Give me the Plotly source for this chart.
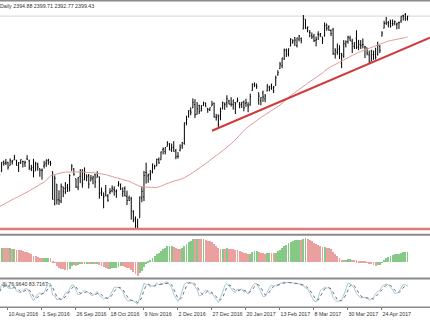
import plotly.graph_objects as go
import pandas as pd
import numpy as np

# ---------------- data ----------------
holidays = ["2016-09-05", "2016-11-24", "2016-12-26", "2017-01-02",
            "2017-01-16", "2017-02-20", "2017-04-14"]
dates = [d for d in pd.bdate_range("2016-08-04", "2017-05-10")
         if d.strftime("%Y-%m-%d") not in holidays]

open_ = [
    2163.5, 2168.8, 2183.8, 2182.2, 2182.8, 2177.9, 2183.7, 2186.1, 2186.2, 2177.8, 2181.9, 2184.2, 2181.6, 2187.8, 2185.1, 2173.3, 2175.1, 2170.2, 2179.5, 2173.6,
    2171.3, 2177.5, 2181.6, 2185.2, 2182.8, 2169.1, 2120.9, 2150.5, 2127.9, 2125.4, 2146.5, 2143.9, 2145.9, 2144.6, 2170.9, 2173.3, 2158.5, 2146.0, 2161.9, 2168.9, 2156.5,
    2164.3, 2163.4, 2155.2, 2158.2, 2164.2, 2160.4, 2161.4, 2137.7, 2130.3, 2139.7, 2132.9, 2138.3, 2140.8, 2142.5, 2139.4, 2148.5, 2149.7, 2136.9, 2144.1, 2132.2, 2129.8,
    2128.7, 2109.4, 2098.8, 2083.8, 2100.6, 2129.9, 2131.6, 2167.5, 2162.7, 2165.6, 2168.3, 2177.5, 2178.6, 2186.8, 2186.4, 2201.6, 2198.6, 2206.3, 2210.2, 2200.8, 2205.0,
    2200.2, 2191.1, 2200.7, 2207.3, 2210.7, 2241.1, 2249.7, 2258.8, 2263.3, 2268.4, 2253.8, 2266.8, 2259.2, 2266.5, 2270.5, 2262.9, 2260.3, 2266.2, 2270.2, 2249.5, 2251.6,
    2251.6, 2261.6, 2268.2, 2271.1, 2273.6, 2269.0, 2268.6, 2271.1, 2272.7, 2269.1, 2269.1, 2271.9, 2270.0, 2267.8, 2267.9, 2288.9, 2298.6, 2299.0, 2286.0, 2274.0,
    2285.6, 2276.7, 2288.5, 2294.3, 2295.9, 2289.6, 2296.7, 2312.3, 2321.7, 2326.1, 2335.6, 2349.6, 2343.0, 2354.9, 2361.1, 2367.5, 2355.7, 2365.2, 2366.1,
    2380.1, 2394.8, 2380.9, 2375.2, 2370.7, 2369.8, 2363.5, 2372.5, 2371.6, 2368.6, 2370.3, 2387.7, 2383.7, 2378.2, 2379.3, 2343.0, 2346.0, 2350.4, 2329.1, 2339.8, 2356.5, 2361.3, 2366.6,
    2362.3, 2354.8, 2366.6, 2353.8, 2356.6, 2357.2, 2353.9, 2352.2, 2342.0, 2332.6, 2342.5, 2346.8, 2342.7, 2354.7, 2370.3, 2381.5, 2389.0, 2389.7, 2393.7,
    2388.5, 2391.1, 2386.5, 2389.8, 2392.4, 2399.9, 2401.6, 2394.88]
high = [
    2168.2, 2182.9, 2185.4, 2187.7, 2183.4, 2188.5, 2186.3, 2193.8, 2186.2, 2183.1, 2187.0, 2185.0, 2185.2, 2193.4, 2186.7, 2179.0, 2187.9, 2183.5, 2182.3, 2173.6,
    2173.6, 2184.9, 2186.6, 2187.9, 2184.9, 2169.1, 2163.3, 2150.5, 2141.3, 2151.3, 2146.5, 2153.6, 2150.8, 2165.1, 2179.9, 2173.8, 2158.5, 2161.1, 2172.4, 2172.7, 2175.3,
    2164.4, 2165.5, 2163.9, 2162.9, 2165.9, 2169.6, 2161.6, 2145.4, 2138.2, 2149.2, 2135.6, 2144.4, 2148.4, 2147.2, 2142.6, 2154.8, 2151.4, 2145.7, 2147.1, 2140.7, 2133.3,
    2131.5, 2111.8, 2102.6, 2099.1, 2132.0, 2146.9, 2170.1, 2182.3, 2165.9, 2171.4, 2180.8, 2179.2, 2188.1, 2189.9, 2198.7, 2204.8, 2204.7, 2213.4, 2211.1, 2210.5, 2214.1,
    2202.6, 2197.9, 2209.4, 2212.8, 2241.6, 2251.7, 2259.8, 2264.0, 2277.5, 2276.2, 2272.1, 2268.1, 2267.5, 2272.6, 2271.2, 2263.2, 2263.8, 2273.8, 2271.3, 2254.5, 2253.6,
    2263.9, 2272.8, 2271.5, 2282.1, 2275.5, 2279.3, 2275.3, 2271.8, 2278.7, 2272.1, 2272.0, 2274.3, 2277.0, 2271.8, 2284.6, 2299.6, 2301.0, 2299.0, 2286.0, 2279.1,
    2289.1, 2284.0, 2298.3, 2296.2, 2299.4, 2295.9, 2311.1, 2319.2, 2331.6, 2337.6, 2351.3, 2351.3, 2351.2, 2366.7, 2365.1, 2368.3, 2367.3, 2371.5, 2367.8,
    2401.0, 2394.8, 2383.9, 2378.8, 2375.1, 2373.1, 2369.1, 2376.9, 2374.4, 2368.6, 2390.0, 2388.1, 2385.7, 2379.6, 2381.9, 2351.8, 2358.9, 2356.2, 2344.9, 2363.8, 2363.4, 2370.4, 2370.4,
    2365.9, 2360.5, 2378.4, 2364.2, 2363.8, 2366.4, 2355.2, 2352.7, 2348.3, 2349.1, 2348.4, 2352.6, 2361.4, 2356.2, 2377.0, 2392.5, 2398.2, 2392.1, 2393.7,
    2394.5, 2392.9, 2389.8, 2391.4, 2399.3, 2401.4, 2403.9, 2399.71]
low = [
    2159.1, 2168.8, 2177.9, 2178.6, 2172.0, 2177.9, 2179.4, 2186.1, 2178.1, 2168.5, 2180.5, 2175.1, 2175.9, 2186.8, 2171.3, 2169.7, 2160.4, 2170.2, 2170.4, 2161.4,
    2157.1, 2173.6, 2176.1, 2179.1, 2177.5, 2127.8, 2119.1, 2120.3, 2119.6, 2122.4, 2131.2, 2135.9, 2139.2, 2139.6, 2170.9, 2163.0, 2145.0, 2141.6, 2151.8, 2145.2, 2156.5,
    2154.8, 2144.0, 2155.2, 2150.3, 2144.9, 2160.4, 2128.8, 2132.8, 2114.7, 2132.7, 2124.4, 2135.5, 2138.2, 2133.4, 2130.1, 2146.9, 2141.9, 2131.6, 2132.5, 2119.4, 2125.5,
    2097.9, 2094.0, 2085.2, 2083.8, 2100.6, 2123.6, 2125.4, 2151.2, 2152.5, 2156.1, 2166.4, 2172.2, 2176.7, 2180.4, 2186.4, 2194.5, 2194.5, 2206.3, 2200.4, 2198.2, 2198.8,
    2187.4, 2188.4, 2199.0, 2202.7, 2208.9, 2237.6, 2249.2, 2252.4, 2263.3, 2248.4, 2253.8, 2254.2, 2258.2, 2266.5, 2265.2, 2256.1, 2258.8, 2266.2, 2249.1, 2244.6, 2233.6,
    2245.1, 2261.6, 2260.5, 2264.1, 2268.8, 2265.3, 2260.8, 2254.3, 2271.5, 2262.8, 2263.4, 2258.4, 2265.0, 2257.0, 2266.7, 2288.9, 2294.1, 2291.6, 2268.0, 2267.2,
    2272.4, 2271.7, 2287.9, 2288.0, 2290.2, 2285.4, 2296.6, 2311.1, 2321.4, 2322.2, 2334.8, 2338.9, 2339.6, 2354.9, 2358.3, 2355.1, 2352.9, 2361.9, 2359.0,
    2380.1, 2380.2, 2375.4, 2368.0, 2365.5, 2361.0, 2354.5, 2364.0, 2368.5, 2358.2, 2368.9, 2377.8, 2377.6, 2369.7, 2341.9, 2336.5, 2342.1, 2335.7, 2322.3, 2337.6, 2352.9, 2358.6, 2362.6,
    2344.7, 2350.7, 2350.5, 2348.9, 2350.7, 2351.5, 2337.3, 2341.2, 2329.0, 2332.5, 2334.5, 2335.1, 2340.9, 2344.5, 2369.2, 2381.2, 2386.8, 2382.7, 2382.4,
    2384.8, 2385.8, 2379.8, 2380.4, 2389.4, 2393.0, 2392.4, 2392.77]
close = [
    2164.3, 2182.9, 2180.9, 2181.7, 2175.5, 2185.8, 2184.1, 2190.2, 2178.2, 2182.2, 2187.0, 2183.9, 2182.6, 2186.9, 2175.4, 2172.5, 2169.0, 2180.4, 2176.1, 2171.0,
    2170.9, 2180.0, 2186.5, 2186.2, 2181.3, 2127.8, 2159.0, 2127.0, 2125.8, 2147.3, 2139.2, 2139.1, 2139.8, 2163.1, 2177.2, 2164.7, 2146.1, 2159.9, 2171.4, 2151.1, 2168.3,
    2161.2, 2150.5, 2159.7, 2160.8, 2153.7, 2163.7, 2136.7, 2139.2, 2132.6, 2133.0, 2126.5, 2139.6, 2144.3, 2141.3, 2141.2, 2151.3, 2143.2, 2139.4, 2133.0, 2126.4, 2126.2,
    2111.7, 2097.9, 2088.7, 2085.2, 2131.5, 2139.6, 2163.3, 2167.5, 2164.5, 2164.2, 2180.4, 2176.9, 2187.1, 2181.9, 2198.2, 2202.9, 2204.7, 2213.4, 2201.7, 2204.7, 2198.8,
    2191.1, 2192.0, 2204.7, 2212.2, 2241.4, 2246.2, 2259.5, 2257.0, 2271.7, 2253.3, 2262.0, 2258.1, 2262.5, 2270.8, 2265.2, 2261.0, 2263.8, 2268.9, 2249.9, 2249.3, 2238.8,
    2257.8, 2270.8, 2269.0, 2277.0, 2268.9, 2268.9, 2275.3, 2270.4, 2274.6, 2267.9, 2271.9, 2263.7, 2271.3, 2265.2, 2280.1, 2298.4, 2296.7, 2294.7, 2280.9, 2278.9,
    2279.6, 2280.9, 2297.4, 2292.6, 2293.1, 2294.7, 2307.9, 2316.1, 2328.3, 2337.6, 2349.3, 2347.2, 2351.2, 2365.4, 2362.8, 2363.8, 2367.3, 2369.8, 2363.6,
    2396.0, 2381.9, 2383.1, 2375.3, 2368.4, 2363.0, 2364.9, 2372.6, 2373.5, 2365.5, 2385.3, 2381.4, 2378.3, 2373.5, 2344.0, 2348.5, 2346.0, 2344.0, 2341.6, 2358.6, 2361.1, 2368.1, 2362.7,
    2358.8, 2360.2, 2353.0, 2357.5, 2355.5, 2357.2, 2353.8, 2344.9, 2329.0, 2349.0, 2342.2, 2338.2, 2355.8, 2348.7, 2374.2, 2388.6, 2387.5, 2388.8, 2384.2,
    2388.3, 2391.2, 2388.1, 2389.5, 2399.3, 2399.4, 2396.9, 2399.43]

# closes before the first visible bar (May 2 - Aug 3 2016), used only for indicator warm-up
pre_close = [
    2081.43, 2063.37, 2051.12, 2050.63, 2057.14, 2058.69, 2084.39, 2064.46, 2064.11, 2046.61, 2066.66,
    2047.21, 2047.63, 2040.04, 2052.32, 2048.04, 2076.06, 2090.54, 2090.10, 2099.06, 2096.95,
    2099.33, 2105.26, 2099.13, 2109.41, 2112.13, 2119.12, 2115.48, 2096.07, 2079.06, 2075.32, 2071.50,
    2077.99, 2071.22, 2083.25, 2088.90, 2085.45, 2113.32, 2037.41, 2000.54, 2036.09, 2070.77, 2098.86,
    2102.95, 2088.55, 2099.73, 2097.90, 2129.90, 2137.16, 2152.14, 2152.43, 2163.75, 2161.74,
    2166.89, 2163.78, 2173.02, 2165.17, 2175.03, 2168.48, 2169.18, 2166.58, 2170.06, 2173.60,
    2170.84, 2157.03, 2163.79]

tick_dates = ["2016-08-10", "2016-09-01", "2016-09-26", "2016-10-18", "2016-11-09", "2016-12-02",
              "2016-12-27", "2017-01-20", "2017-02-13", "2017-03-08", "2017-03-30", "2017-04-24"]
tick_text = ["10 Aug 2016", "1 Sep 2016", "26 Sep 2016", "18 Oct 2016", "9 Nov 2016", "2 Dec 2016",
             "27 Dec 2016", "20 Jan 2017", "13 Feb 2017", "8 Mar 2017", "30 Mar 2017", "24 Apr 2017"]

support_level = 2083.8                       # horizontal level (Nov 4 low)
trend_anchor_dates = ["2016-12-30", "2017-04-13"]   # trendline through these lows
trend_start_date = "2016-12-27"
header_text = "Daily 2394.88 2399.71 2392.77 2399.43"
stoch_text = "3) 76.9640 83.7167"

assert len(open_) == len(high) == len(low) == len(close) == len(dates)

# ---------------- indicators ----------------
n = len(dates)
x = np.arange(n)
idx = {d.strftime("%Y-%m-%d"): i for i, d in enumerate(dates)}
allc = pd.Series(pre_close + close)
npre = len(pre_close)
ma = allc.rolling(50).mean().values[npre:]
macd = (allc.ewm(span=12, adjust=False).mean() - allc.ewm(span=26, adjust=False).mean()).values[npre:]
mcol = ["#86c886" if i > 0 and macd[i] >= macd[i - 1] else "#eba0a0" for i in range(n)]
H_ = pd.Series(high); L_ = pd.Series(low); C_ = pd.Series(close)
hh = H_.rolling(5, min_periods=1).max(); ll = L_.rolling(5, min_periods=1).min()
num = (C_ - ll).rolling(3, min_periods=1).sum(); den = (hh - ll).rolling(3, min_periods=1).sum()
stoch_main = 100 * num / den
stoch_sig = stoch_main.rolling(3, min_periods=1).mean()

ta, tb = idx[trend_anchor_dates[0]], idx[trend_anchor_dates[1]]
slope = (low[tb] - low[ta]) / (tb - ta)

# ---------------- figure ----------------
W, H = 430, 320
def fy(px):
    return 1 - px / H

xr = [0.24, 202.6]
fig = go.Figure()
fig.add_trace(go.Ohlc(x=x, open=open_, high=high, low=low, close=close,
                      increasing=dict(line=dict(color="black", width=1)),
                      decreasing=dict(line=dict(color="black", width=1)),
                      tickwidth=0.35, xaxis="x", yaxis="y", hoverinfo="skip"))
fig.add_trace(go.Scatter(x=x, y=ma, mode="lines", line=dict(color="#e39a9a", width=1),
                         xaxis="x", yaxis="y", hoverinfo="skip"))
fig.add_trace(go.Bar(x=x, y=macd, marker=dict(color=mcol, line=dict(width=0)), width=0.42,
                     xaxis="x2", yaxis="y2", hoverinfo="skip"))
fig.add_trace(go.Scatter(x=x, y=stoch_main, mode="lines", line=dict(color="#a6cad9", width=1),
                         xaxis="x3", yaxis="y3", hoverinfo="skip"))
fig.add_trace(go.Scatter(x=x, y=stoch_sig, mode="lines", line=dict(color="#707070", width=1, dash="dot"),
                         xaxis="x3", yaxis="y3", hoverinfo="skip"))

ts = idx[trend_start_date]
shapes = [
    dict(type="line", xref="paper", yref="y", x0=0, x1=1, y0=close[-1], y1=close[-1],
         line=dict(color="#d4d4d4", width=1), layer="below"),
    dict(type="line", xref="paper", yref="y", x0=0, x1=1, y0=support_level, y1=support_level,
         line=dict(color="#e07a7a", width=2.5)),
    dict(type="line", xref="x", yref="y", x0=ts, x1=xr[1],
         y0=low[ta] + slope * (ts - ta), y1=low[ta] + slope * (xr[1] - ta),
         line=dict(color="#d03a3a", width=2)),
]
for py, w in [(0.8, 1.5), (234.8, 2), (278.5, 2), (307.3, 1.5)]:
    shapes.append(dict(type="line", xref="paper", yref="paper", x0=0, x1=1, y0=fy(py), y1=fy(py),
                       line=dict(color="#8a8a8a", width=w)))

mn, mx = float(np.min(macd)), float(np.max(macd))
pad = (mx - mn) * 0.04
font = dict(family="Liberation Sans", size=5.3, color="#333333")
fig.update_layout(
    template="none", width=W, height=H, margin=dict(l=0, r=0, t=0, b=0),
    paper_bgcolor="white", plot_bgcolor="white", showlegend=False, bargap=0,
    xaxis=dict(domain=[0, 1], range=xr, visible=False, anchor="y", rangeslider=dict(visible=False)),
    yaxis=dict(domain=[fy(234), fy(2)], range=[2076.56, 2420.3], visible=False),
    xaxis2=dict(domain=[0, 1], range=xr, visible=False, anchor="y2"),
    yaxis2=dict(domain=[fy(277), fy(237)], range=[mn - pad, mx + pad], visible=False),
    xaxis3=dict(domain=[0, 1], range=xr, anchor="y3", showgrid=False, zeroline=False, showline=False,
                tickmode="array", tickvals=[idx[d] for d in tick_dates], ticktext=tick_text,
                ticks="outside", ticklen=3, tickcolor="#777", ticklabelposition="outside right",
                ticklabelstandoff=3, tickangle=0, tickfont=font, automargin=False),
    yaxis3=dict(domain=[fy(306), fy(281)], range=[-2, 102], visible=False),
    shapes=shapes,
    annotations=[
        dict(text=header_text, xref="paper", yref="paper", x=0, y=fy(5.5), xanchor="left",
             yanchor="middle", xshift=-2, showarrow=False, font=font),
        dict(text=stoch_text, xref="paper", yref="paper", x=0, y=fy(284), xanchor="left",
             yanchor="middle", showarrow=False, font=font),
    ],
)
fig.write_html("out.html")
